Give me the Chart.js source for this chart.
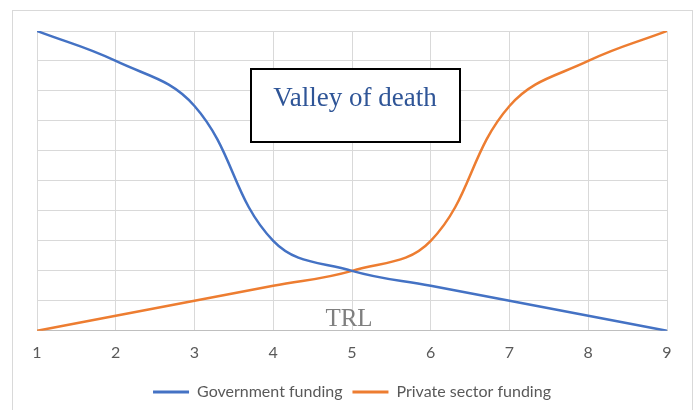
<!DOCTYPE html>
<html>
<head>
<meta charset="utf-8">
<script src="https://cdn.jsdelivr.net/npm/chart.js@4.4.1/dist/chart.umd.min.js"></script>
<style>
html,body{margin:0;padding:0;background:#fff;}
#wrap{width:698px;height:410px;position:relative;}
</style>
</head>
<body>
<div id="wrap"><canvas id="c" width="698" height="410"></canvas></div>
<script>
const trl = [1, 2, 3, 4, 5, 6, 7, 8, 9];
const governmentFunding = [10, 9, 7.5, 3, 2, 1.5, 1, 0.5, 0];
const privateFunding = [0, 0.5, 1, 1.5, 2, 3, 7.5, 9, 10];
const seriesNames = ['Government funding', 'Private sector funding'];
const boxTitle = 'Valley of death';
const axisTitle = 'TRL';

const annot = {
  id: 'annot',
  beforeDraw(chart) {
    const ctx = chart.ctx;
    ctx.save();
    ctx.fillStyle = '#fff';
    ctx.fillRect(0, 0, chart.width, chart.height);
    ctx.strokeStyle = '#d9d9d9';
    ctx.lineWidth = 1;
    ctx.strokeRect(12.5, 10.5, 680, 420);
    ctx.restore();
  },
  afterDatasetsDraw(chart) {
    const ctx = chart.ctx;
    ctx.save();
    ctx.fillStyle = '#fff';
    ctx.fillRect(251, 69, 209, 73);
    ctx.strokeStyle = '#000';
    ctx.lineWidth = 2;
    ctx.strokeRect(251, 69, 209, 73);
    ctx.fillStyle = '#2F5597';
    ctx.font = '27px "Liberation Serif"';
    ctx.textAlign = 'center';
    ctx.textBaseline = 'alphabetic';
    ctx.fillText(boxTitle, 355, 106);
    ctx.fillStyle = '#7f7f7f';
    ctx.font = '25px "Liberation Serif"';
    ctx.fillText(axisTitle, 349, 326);
    ctx.restore();
  }
};

new Chart(document.getElementById('c'), {
  type: 'line',
  data: {
    datasets: [
      {
        label: seriesNames[0],
        data: trl.map((x, i) => ({x, y: governmentFunding[i]})),
        borderColor: '#4472C4',
        backgroundColor: '#4472C4',
        borderWidth: 2.5,
        pointRadius: 0,
        tension: 0.4,
        fill: false
      },
      {
        label: seriesNames[1],
        data: trl.map((x, i) => ({x, y: privateFunding[i]})),
        borderColor: '#ED7D31',
        backgroundColor: '#ED7D31',
        borderWidth: 2.5,
        pointRadius: 0,
        tension: 0.4,
        fill: false
      }
    ]
  },
  options: {
    responsive: false,
    animation: false,
    layout: { padding: { left: 37, right: 31, top: 31, bottom: 0 } },
    scales: {
      x: {
        type: 'linear',
        min: 1, max: 9,
        ticks: { stepSize: 1, color: '#595959', font: { family: 'Lato', size: 16 }, padding: 12 },
        grid: { color: '#d9d9d9', drawTicks: false },
        border: { color: '#bfbfbf' }
      },
      y: {
        min: 0, max: 10,
        ticks: { stepSize: 1, display: false },
        grid: { color: '#d9d9d9', drawTicks: false },
        border: { display: false }
      }
    },
    plugins: {
      tooltip: { enabled: false },
      legend: {
        position: 'bottom',
        labels: {
          color: '#595959',
          font: { family: 'Lato', size: 16 },
          boxWidth: 36,
          boxHeight: 3,
          padding: 10,
          generateLabels(chart) {
            return chart.data.datasets.map((d, i) => ({
              text: d.label, fillStyle: d.borderColor, strokeStyle: d.borderColor,
              lineWidth: 0, hidden: false, datasetIndex: i, fontColor: '#595959'
            }));
          }
        }
      }
    }
  },
  plugins: [annot]
});
</script>
</body>
</html>
